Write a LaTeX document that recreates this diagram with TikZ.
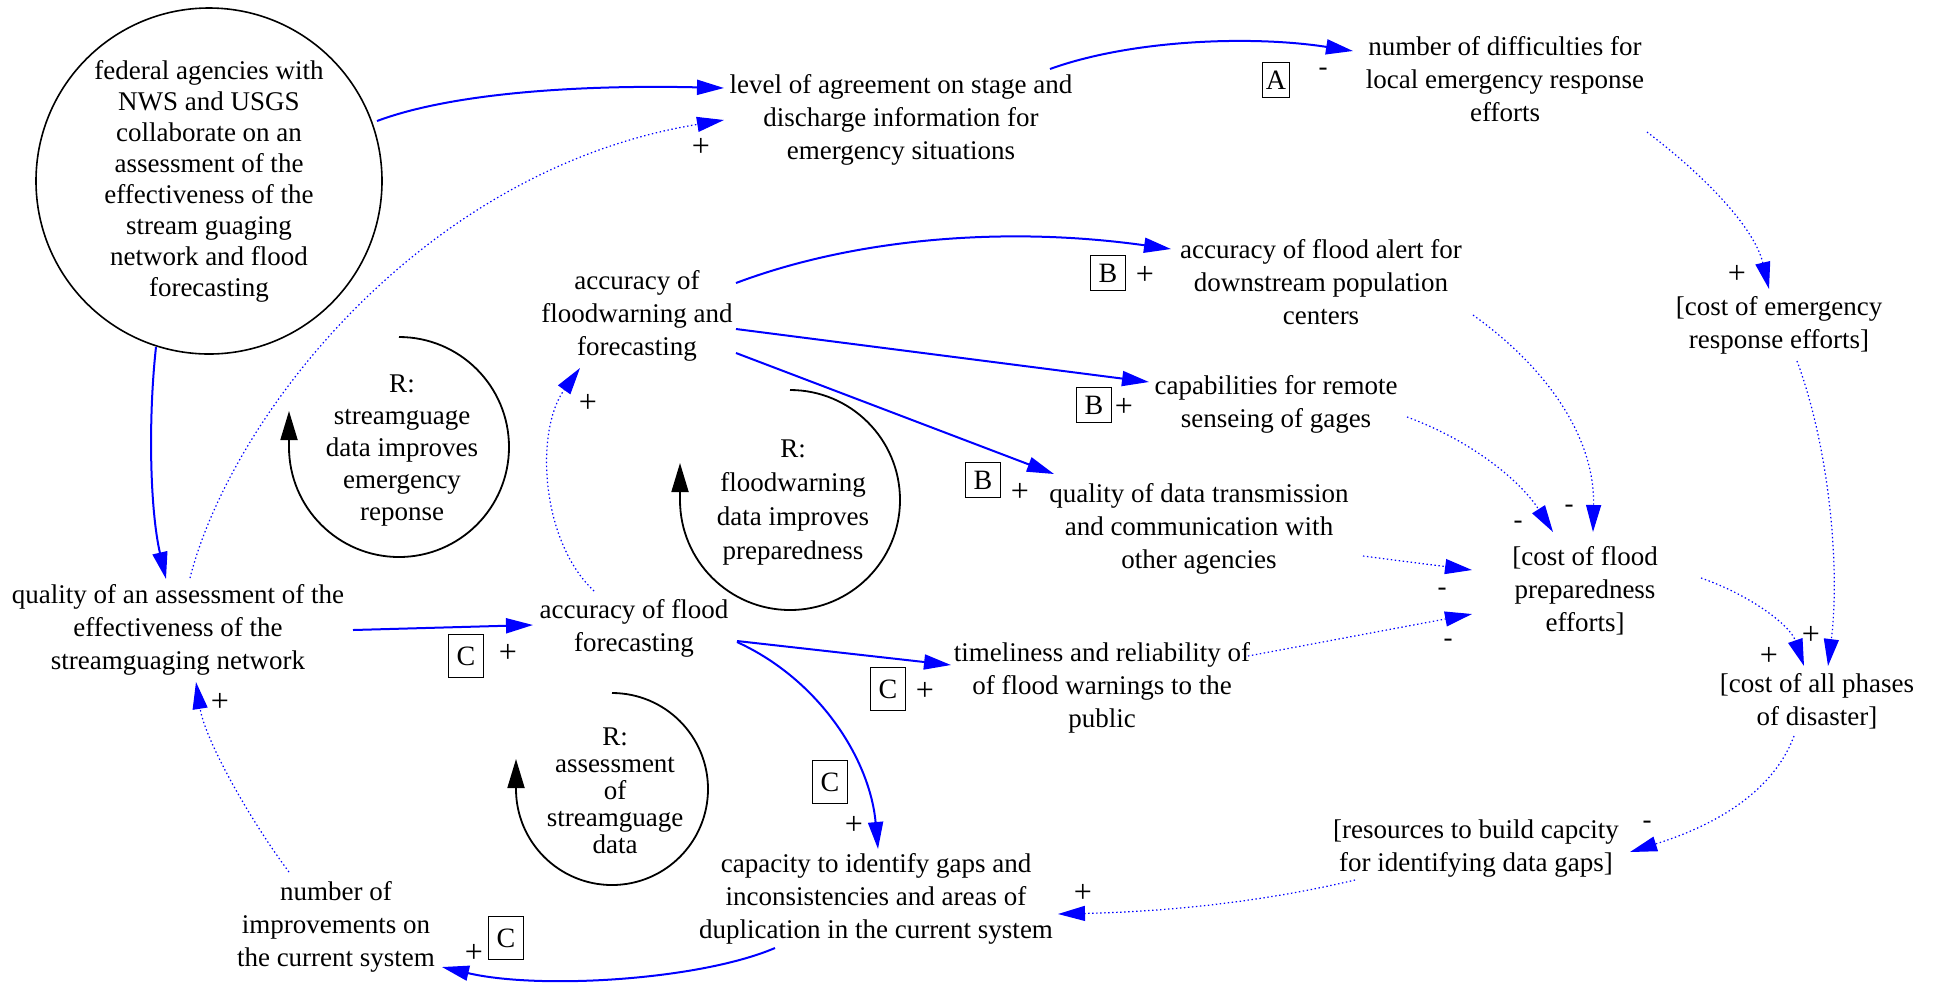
\documentclass[tikz,border=0pt]{standalone}
\usepackage{fontspec}
\setmainfont{Liberation Serif}
\usetikzlibrary{arrows.meta}
\begin{document}
\begin{tikzpicture}[x=0.5pt,y=-0.5pt,
  txt/.style={align=center, inner sep=0pt, font=\fontsize{13.5}{16.5}\selectfont},
  sol/.style={draw=blue, line width=1pt, -{Triangle[length=13.5pt,width=7.5pt]}},
  dot/.style={draw=blue, line width=0.6pt, dash pattern=on 0.7pt off 1.3pt, -{Triangle[length=13.5pt,width=7.5pt]}},
  sgn/.style={inner sep=0pt, font=\fontsize{16}{18}\selectfont},
  msgn/.style={inner sep=0pt, font=\fontsize{13.5}{16.5}\selectfont},
  lbox/.style={draw, line width=0.6pt, inner sep=0pt, minimum width=17.5pt, minimum height=17.5pt, font=\fontsize{14}{16.5}\selectfont},
  rloop/.style={draw=black, line width=0.9pt, -{Triangle[length=14.5pt,width=8.5pt]}}
]
\useasboundingbox (0,0) rectangle (1938,982);

% nodes
\node[circle, draw, line width=0.8pt, minimum size=173pt, inner sep=0pt] (fed) at (209,181) {};
\node[txt, font=\fontsize{13.5}{15.5}\selectfont] (fedt) at (209,181) {federal agencies with\\NWS and USGS\\collaborate on an\\assessment of the\\effectiveness of the\\stream guaging\\network and flood\\forecasting};
\node[txt] (lvl) at (901,120) {level of agreement on stage and\\discharge information for\\emergency situations};
\node[txt] (ndiff) at (1505,79) {number of difficulties for\\local emergency response\\efforts};
\node[txt] (costER) at (1779,325) {[cost of emergency\\response efforts]};
\node[txt] (accFA) at (1321,282) {accuracy of flood alert for\\downstream population\\centers};
\node[txt] (accFW) at (637,316) {accuracy of\\floodwarning and\\forecasting};
\node[txt] (cap) at (1276,404) {capabilities for remote\\senseing of gages};
\node[txt] (qual) at (1199,529) {quality of data transmission\\and communication with\\other agencies};
\node[txt] (costFP) at (1585,591) {[cost of flood\\preparedness\\efforts]};
\node[txt] (costAll) at (1817,701) {[cost of all phases\\of disaster]};
\node[txt] (qa) at (178,630) {quality of an assessment of the\\effectiveness of the\\streamguaging network};
\node[txt] (accF) at (634,628) {accuracy of flood\\forecasting};
\node[txt] (time) at (1102,688) {timeliness and reliability of\\of flood warnings to the\\public};
\node[txt] (capID) at (876,899) {capacity to identify gaps and\\inconsistencies and areas of\\duplication in the current system};
\node[txt] (res) at (1476,849) {[resources to build capcity\\for identifying data gaps]};
\node[txt] (nimp) at (336,927) {number of\\improvements on\\the current system};

% loops
\node[txt, font=\fontsize{13.5}{16}\selectfont] (r1) at (402,451) {R:\\streamguage\\data improves\\emergency\\reponse};
\node[txt, font=\fontsize{13.5}{17}\selectfont] (r2) at (793,503) {R:\\floodwarning\\data improves\\preparedness};
\node[txt, font=\fontsize{13.5}{13.5}\selectfont] (r3) at (615,791) {R:\\assessment\\of\\streamguage\\data};
\draw[rloop] (399,337) arc[start angle=90, end angle=-180, radius=55pt] -- ++(0,-36);
\draw[rloop] (790,390) arc[start angle=90, end angle=-180, radius=55pt] -- ++(0,-37);
\draw[rloop] (612,693) arc[start angle=90, end angle=-180, radius=48pt] -- ++(0,-30);

% edges
\draw[sol] ([shift={(168,-60)}]fed.center) .. controls (460,90) and (600,85) .. ([shift={(-177,-32)}]lvl.center);
\draw[dot] ([shift={(12,-52)}]qa.center) .. controls (230,420) and (420,170) .. ([shift={(-177,0)}]lvl.center);
\draw[sol] ([shift={(149,-51)}]lvl.center) .. controls (1130,40) and (1250,35) .. ([shift={(-152,-28)}]ndiff.center);
\draw[dot] ([shift={(142,53)}]ndiff.center) .. controls (1710,180) and (1755,230) .. ([shift={(-10,-36)}]costER.center);
\draw[sol] ([shift={(99,-33)}]accFW.center) .. controls (850,240) and (1000,225) .. ([shift={(-150,-33)}]accFA.center);
\draw[sol] ([shift={(99,13)}]accFW.center) -- ([shift={(-127,-22)}]cap.center);
\draw[sol] ([shift={(99,37)}]accFW.center) -- ([shift={(-145,-55)}]qual.center);
\draw[sol] ([shift={(-53,166)}]fed.center) .. controls (148,420) and (150,510) .. ([shift={(-12,-51)}]qa.center);
\draw[sol] ([shift={(175,0)}]qa.center) -- ([shift={(-101,-3)}]accF.center);
\draw[dot] ([shift={(-40,-37)}]accF.center) .. controls (540,540) and (535,430) .. ([shift={(-57,52)}]accFW.center);
\draw[dot] ([shift={(-47,-55)}]nimp.center) .. controls (250,820) and (205,740) .. ([shift={(18,52)}]qa.center);
\draw[sol] ([shift={(-101,49)}]capID.center) .. controls (700,980) and (540,990) .. ([shift={(106,40)}]nimp.center);
\draw[sol] ([shift={(103,13)}]accF.center) -- ([shift={(-151,-23)}]time.center);
\draw[sol] ([shift={(103,14)}]accF.center) .. controls (820,680) and (870,760) .. ([shift={(2,-50)}]capID.center);
\draw[dot] ([shift={(152,33)}]accFA.center) .. controls (1550,370) and (1595,440) .. ([shift={(8,-59)}]costFP.center);
\draw[dot] ([shift={(131,13)}]cap.center) .. controls (1470,440) and (1520,480) .. ([shift={(-32,-59)}]costFP.center);
\draw[dot] ([shift={(164,27)}]qual.center) -- ([shift={(-113,-21)}]costFP.center);
\draw[dot] ([shift={(146,-32)}]time.center) -- ([shift={(-113,23)}]costFP.center);
\draw[dot] ([shift={(116,-13)}]costFP.center) .. controls (1750,595) and (1790,625) .. ([shift={(-13,-35)}]costAll.center);
\draw[dot] ([shift={(18,36)}]costER.center) .. controls (1830,450) and (1840,570) .. ([shift={(11,-35)}]costAll.center);
\draw[dot] ([shift={(-23,35)}]costAll.center) .. controls (1770,800) and (1700,830) .. ([shift={(154,3)}]res.center);
\draw[dot] ([shift={(-121,31)}]res.center) .. controls (1250,905) and (1150,912) .. ([shift={(182,15)}]capID.center);

% labels
\node[lbox, minimum width=13.5pt] (bA) at (1276,80) {A};
\node[msgn] (sA) at (1323,72) {-};
\node[sgn] (s2) at (701,147) {+};
\node[sgn] (s4) at (1737,274) {+};
\node[lbox] (bB1) at (1108,273) {B};
\node[sgn] (sB1) at (1145,275) {+};
\node[lbox] (bB2) at (1094,405) {B};
\node[sgn] (sB2) at (1124,407) {+};
\node[lbox] (bB3) at (983,480) {B};
\node[sgn] (sB3) at (1020,492) {+};
\node[lbox, minimum height=21.5pt] (bC1) at (466,656) {C};
\node[sgn] (sC1) at (508,653) {+};
\node[lbox, minimum height=21.5pt] (bC2) at (888,689) {C};
\node[sgn] (sC2) at (925,691) {+};
\node[lbox, minimum height=21.5pt] (bC3) at (830,782) {C};
\node[sgn] (sC3) at (854,825) {+};
\node[lbox, minimum height=21.5pt] (bC4) at (506,938) {C};
\node[sgn] (sC4) at (474,953) {+};
\node[sgn] (s10) at (588,403) {+};
\node[sgn] (s11) at (220,702) {+};
\node[msgn] (s15) at (1569,509) {-};
\node[msgn] (s16) at (1518,525) {-};
\node[msgn] (s17) at (1442,592) {-};
\node[msgn] (s18) at (1448,643) {-};
\node[sgn] (s19) at (1769,656) {+};
\node[sgn] (s20) at (1811,635) {+};
\node[msgn] (s21) at (1647,825) {-};
\node[sgn] (s22) at (1083,893) {+};
\end{tikzpicture}
\end{document}
